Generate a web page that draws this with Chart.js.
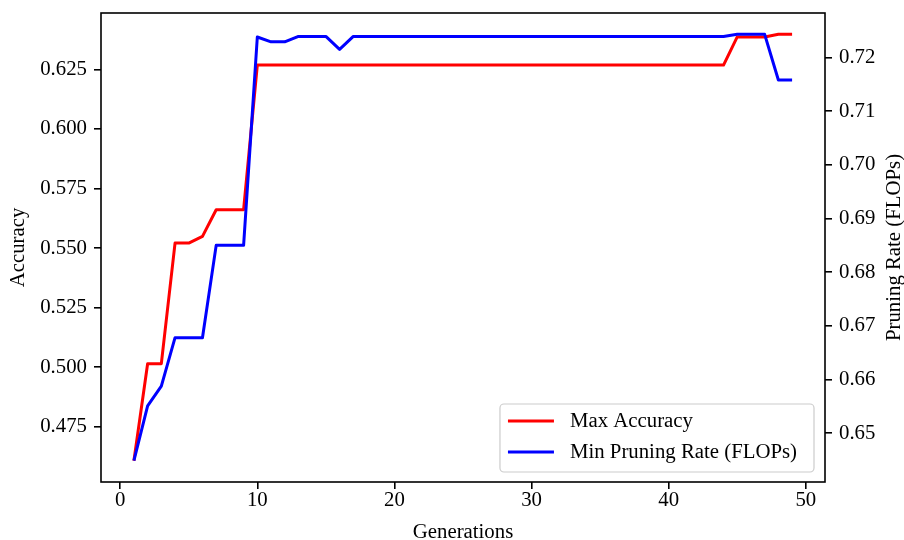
<!DOCTYPE html>
<html>
<head>
<meta charset="utf-8">
<title>Accuracy and pruning rate per generation</title>
<script src="https://cdn.jsdelivr.net/npm/chart.js@4.4.1/dist/chart.umd.min.js"></script>
<style>
html, body { margin: 0; padding: 0; background: #fff; overflow: hidden; }
canvas { display: block; }
</style>
</head>
<body>
<canvas id="plot" width="904" height="550"></canvas>
<script>
// values
const generations = [1, 2, 3, 4, 5, 6, 7, 8, 9, 10,
    11, 12, 13, 14, 15, 16, 17, 18, 19, 20,
    21, 22, 23, 24, 25, 26, 27, 28, 29, 30,
    31, 32, 33, 34, 35, 36, 37, 38, 39, 40,
    41, 42, 43, 44, 45, 46, 47, 48, 49];

const maxAccuracy = [0.4608, 0.5015, 0.5015, 0.5521, 0.5521, 0.5549, 0.5661, 0.5661, 0.5661, 0.6268,
    0.6268, 0.6268, 0.6268, 0.6268, 0.6268, 0.6268, 0.6268, 0.6268, 0.6268, 0.6268,
    0.6268, 0.6268, 0.6268, 0.6268, 0.6268, 0.6268, 0.6268, 0.6268, 0.6268, 0.6268,
    0.6268, 0.6268, 0.6268, 0.6268, 0.6268, 0.6268, 0.6268, 0.6268, 0.6268, 0.6268,
    0.6268, 0.6268, 0.6268, 0.6268, 0.6386, 0.6386, 0.6386, 0.6397, 0.6397];

const minPruningRate = [0.6449, 0.6551, 0.6588, 0.6678, 0.6678, 0.6678, 0.6850, 0.6850, 0.6850, 0.7238,
    0.7229, 0.7229, 0.7239, 0.7239, 0.7239, 0.7215, 0.7239, 0.7239, 0.7239, 0.7239,
    0.7239, 0.7239, 0.7239, 0.7239, 0.7239, 0.7239, 0.7239, 0.7239, 0.7239, 0.7239,
    0.7239, 0.7239, 0.7239, 0.7239, 0.7239, 0.7239, 0.7239, 0.7239, 0.7239, 0.7239,
    0.7239, 0.7239, 0.7239, 0.7239, 0.7243, 0.7243, 0.7243, 0.7158, 0.7158];

const xTicks = [0, 10, 20, 30, 40, 50];
const accuracyTicks = [0.475, 0.500, 0.525, 0.550, 0.575, 0.600, 0.625];
const rateTicks = [0.65, 0.66, 0.67, 0.68, 0.69, 0.70, 0.71, 0.72];


// matplotlib style 5% margins around the data
function padRange(values){
    const lo = Math.min(...values);
    const hi = Math.max(...values);
    const m = (hi - lo) * 0.05;
    return [lo - m, hi + m];
}

const xRange = padRange(generations);
const accRange = padRange(maxAccuracy);
const rateRange = padRange(minPruningRate);

const FONT = "'Liberation Serif', 'Times New Roman', Times, serif";
const FSIZE = 20.8;

Chart.defaults.font.family = FONT;
Chart.defaults.font.size = FSIZE;
Chart.defaults.color = '#000';

const tickGrid = {
    drawOnChartArea: false,
    drawTicks: true,
    tickLength: 7,
    color: '#000',
    lineWidth: 1.6
};

// fixed axis boxes so the plot area sits where the reference has it
function fixBox(w, h){
    return s => {
        if (w !== null) s.width = w;
        if (h !== null) s.height = h;
        s.paddingTop = 0;
        s.paddingBottom = 0;
        s.paddingLeft = 0;
        s.paddingRight = 0;
    };
}

// box around the axes, like the matplotlib spines
const framePlugin = {
    id: 'frame',
    afterDatasetsDraw(chart){
        const a = chart.chartArea;
        const ctx = chart.ctx;
        ctx.save();
        ctx.strokeStyle = '#000';
        ctx.lineWidth = 1.6;
        ctx.strokeRect(a.left, a.top, a.right - a.left, a.bottom - a.top);
        ctx.restore();
    }
};

// right axis label reads bottom to top, as in the reference
const rightTitlePlugin = {
    id: 'rightTitle',
    afterDraw(chart){
        const a = chart.chartArea;
        const ctx = chart.ctx;
        ctx.save();
        ctx.translate(895, (a.top + a.bottom) / 2);
        ctx.rotate(-Math.PI / 2);
        ctx.font = FSIZE + 'px ' + FONT;
        ctx.fillStyle = '#000';
        ctx.textAlign = 'center';
        ctx.textBaseline = 'middle';
        ctx.fillText('Pruning Rate (FLOPs)', 0, 0);
        ctx.restore();
    }
};

// legend box in the lower right corner of the plot
const boxLegendPlugin = {
    id: 'boxLegend',
    afterDraw(chart){
        const a = chart.chartArea;
        const ctx = chart.ctx;
        const sets = chart.data.datasets;
        ctx.save();
        ctx.font = FSIZE + 'px ' + FONT;
        const textW = Math.max(...sets.map(d => ctx.measureText(d.label).width));
        const w = 70 + textW + 17;
        const h = 68;
        const x = a.right - 11 - w;
        const y = a.bottom - 10 - h;

        ctx.beginPath();
        ctx.roundRect(x, y, w, h, 4);
        ctx.fillStyle = 'rgba(255,255,255,0.8)';
        ctx.fill();
        ctx.strokeStyle = '#cccccc';
        ctx.lineWidth = 1.2;
        ctx.stroke();

        sets.forEach((d, i) => {
            const ry = y + 17 + i * 31;
            ctx.beginPath();
            ctx.moveTo(x + 8, ry);
            ctx.lineTo(x + 54, ry);
            ctx.strokeStyle = d.borderColor;
            ctx.lineWidth = 3;
            ctx.stroke();
            ctx.fillStyle = '#000';
            ctx.textAlign = 'left';
            ctx.textBaseline = 'middle';
            ctx.fillText(d.label, x + 70, ry + 1);
        });
        ctx.restore();
    }
};

const ctx = document.getElementById('plot').getContext('2d');
const myChart = new Chart(ctx, {
    type: 'line',
    data: {
        datasets: [{
            label: 'Max Accuracy',
            data: generations.map((g, i) => ({x: g, y: maxAccuracy[i]})),
            borderColor: '#ff0000',
            borderWidth: 3,
            yAxisID: 'y',
            order: 2
        }, {
            label: 'Min Pruning Rate (FLOPs)',
            data: generations.map((g, i) => ({x: g, y: minPruningRate[i]})),
            borderColor: '#0000ff',
            borderWidth: 3,
            yAxisID: 'y2',
            order: 1
        }]
    },
    options: {
        responsive: false,
        animation: false,
        events: [],
        layout: { padding: { top: 13, left: 0, right: 0, bottom: 0 } },
        elements: {
            point: { radius: 0 },
            line: { tension: 0, fill: false, borderCapStyle: 'butt', borderJoinStyle: 'round' }
        },
        plugins: {
            legend: { display: false },
            tooltip: { enabled: false }
        },
        scales: {
            x: {
                type: 'linear',
                position: 'bottom',
                min: xRange[0],
                max: xRange[1],
                afterBuildTicks: s => { s.ticks = xTicks.map(v => ({value: v})); },
                afterFit: fixBox(null, 68),
                ticks: { autoSkip: false, padding: -1, maxRotation: 0, callback: v => String(v) },
                grid: tickGrid,
                border: { display: false },
                title: { display: true, text: 'Generations', padding: { top: 0, bottom: 5 } }
            },
            y: {
                type: 'linear',
                position: 'left',
                min: accRange[0],
                max: accRange[1],
                afterBuildTicks: s => { s.ticks = accuracyTicks.map(v => ({value: v})); },
                afterFit: fixBox(101, null),
                ticks: { autoSkip: false, padding: 7, callback: v => v.toFixed(3) },
                grid: tickGrid,
                border: { display: false },
                title: { display: true, text: 'Accuracy', padding: { top: 6, bottom: 0 } }
            },
            y2: {
                type: 'linear',
                position: 'right',
                min: rateRange[0],
                max: rateRange[1],
                afterBuildTicks: s => { s.ticks = rateTicks.map(v => ({value: v})); },
                afterFit: fixBox(79, null),
                ticks: { autoSkip: false, padding: 7, callback: v => v.toFixed(2) },
                grid: tickGrid,
                border: { display: false }
            }
        }
    },
    plugins: [framePlugin, boxLegendPlugin, rightTitlePlugin]
});
</script>
</body>
</html>
